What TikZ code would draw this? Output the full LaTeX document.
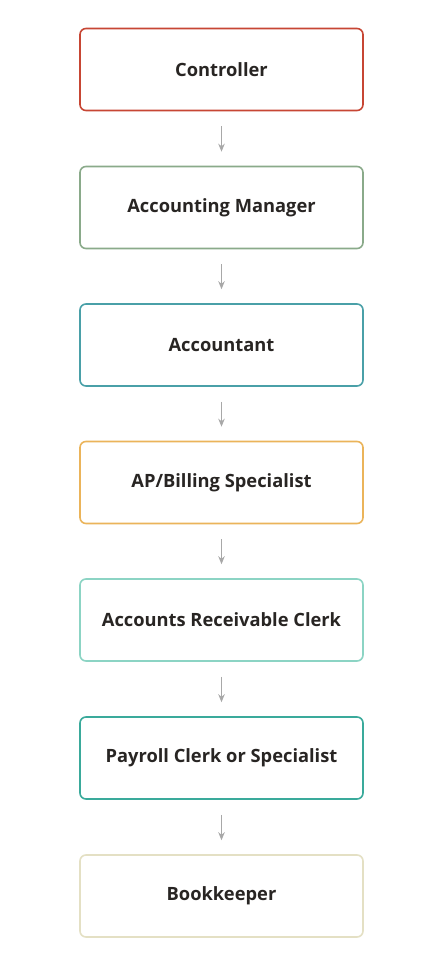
\documentclass[tikz,border=0pt]{standalone}
\usepackage{fontspec}
\setmainfont{Open Sans}
\usetikzlibrary{arrows.meta}
\definecolor{cRed}{RGB}{199,70,52}
\definecolor{cSage}{RGB}{138,170,138}
\definecolor{cTeal}{RGB}{74,160,168}
\definecolor{cOrange}{RGB}{235,180,90}
\definecolor{cMint}{RGB}{140,212,196}
\definecolor{cSea}{RGB}{58,170,155}
\definecolor{cBeige}{RGB}{228,224,196}
\definecolor{cText}{RGB}{40,37,35}
\definecolor{cArrow}{RGB}{168,168,168}
\tikzset{
  rolebox/.style={draw=#1, line width=1.6pt, rounded corners=6pt, minimum width=283pt, minimum height=82pt, inner sep=0pt, fill=white, text=cText, font=\bfseries\fontsize{18.3}{21}\selectfont},
  flowarrow/.style={draw=cArrow, line width=1.1pt, -{Stealth[length=8pt,width=6.5pt]}, shorten <=15pt, shorten >=14pt}
}
\begin{document}
\begin{tikzpicture}[x=1pt,y=-1pt]
\useasboundingbox[fill=white] (0,0) rectangle (440,971);
\node[rolebox=cRed] (n1) at (221.5,69.5) {Controller};
\node[rolebox=cSage] (n2) at (221.5,207.5) {Accounting Manager};
\node[rolebox=cTeal] (n3) at (221.5,345) {Accountant};
\node[rolebox=cOrange] (n4) at (221.5,482.5) {AP/Billing Specialist};
\node[rolebox=cMint] (n5) at (221.5,620) {Accounts Receivable Clerk};
\node[rolebox=cSea] (n6) at (221.5,758) {Payroll Clerk or Specialist};
\node[rolebox=cBeige] (n7) at (221.5,896) {Bookkeeper};
\draw[flowarrow] (n1.south) -- (n2.north);
\draw[flowarrow] (n2.south) -- (n3.north);
\draw[flowarrow] (n3.south) -- (n4.north);
\draw[flowarrow] (n4.south) -- (n5.north);
\draw[flowarrow] (n5.south) -- (n6.north);
\draw[flowarrow] (n6.south) -- (n7.north);
\end{tikzpicture}
\end{document}
